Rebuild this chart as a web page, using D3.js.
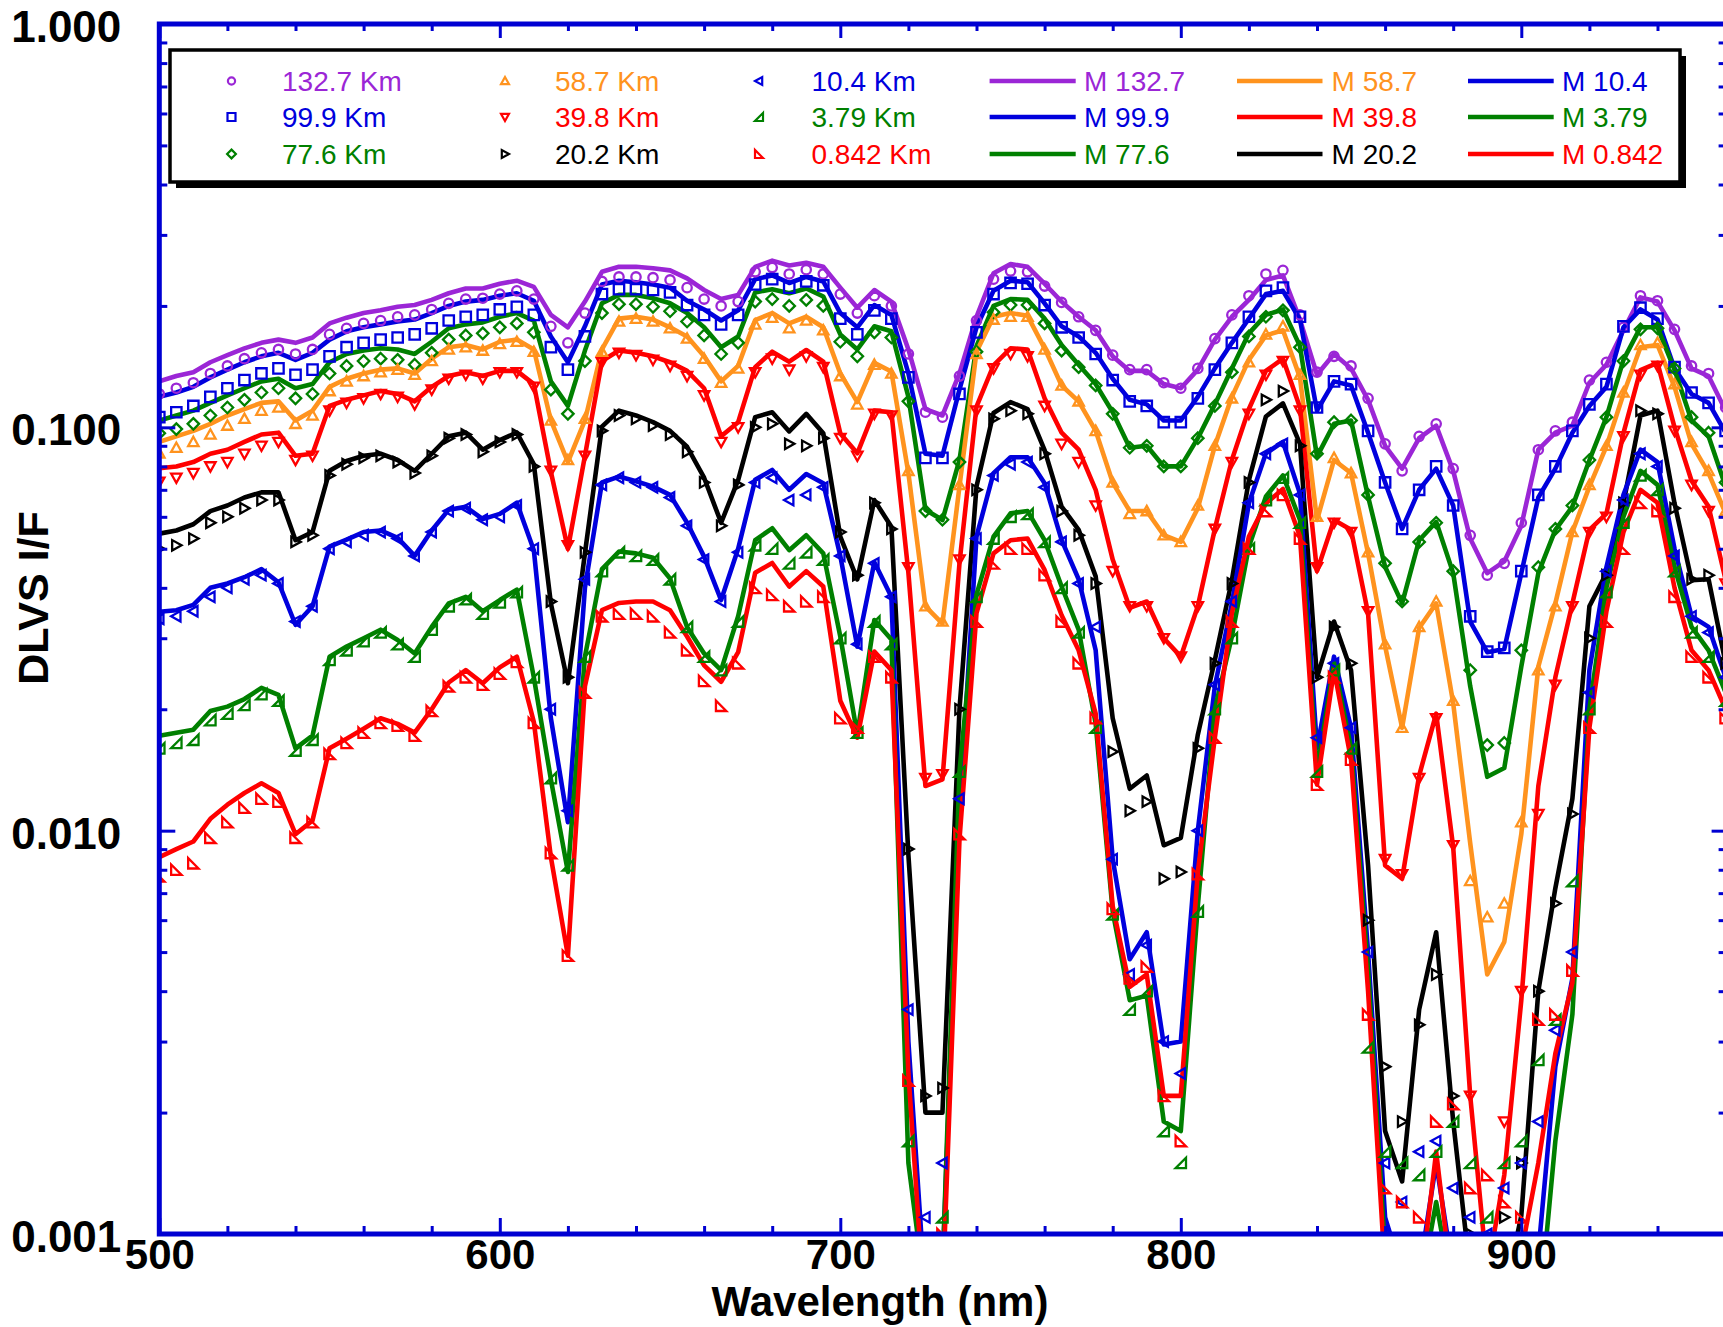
<!DOCTYPE html>
<html>
<head>
<meta charset="utf-8">
<script src="https://cdn.jsdelivr.net/npm/d3@7"></script>
<style>
  body { margin: 0; background: #fff; }
  svg { display: block; font-family: "Liberation Sans", Arial, sans-serif; }
</style>
</head>
<body>
<svg id="chart" width="1723" height="1327"></svg>
<script>
// ---- data (5 nm grid) ----
const wavelengths = [
  500,505,510,515,520,525,530,535,540,545,
  550,555,560,565,570,575,580,585,590,595,
  600,605,610,615,620,625,630,635,640,645,
  650,655,660,665,670,675,680,685,690,695,
  700,705,710,715,720,725,730,735,740,745,
  750,755,760,765,770,775,780,785,790,795,
  800,805,810,815,820,825,830,835,840,845,
  850,855,860,865,870,875,880,885,890,895,
  900,905,910,915,920,925,930,935,940,945,
  950,955,960];

const obsNames = ["132.7 Km","99.9 Km","77.6 Km","58.7 Km","39.8 Km","20.2 Km","10.4 Km","3.79 Km","0.842 Km"];
const modNames = ["M 132.7","M 99.9","M 77.6","M 58.7","M 39.8","M 20.2","M 10.4","M 3.79","M 0.842"];

const xMajorTicks = [500,600,700,800,900];
const yMajorTicks = [0.001,0.01,0.1,1];

// model curves
const mod132 = [
  0.130,0.134,0.137,0.145,0.151,0.157,0.162,0.165,0.162,0.167,
  0.181,0.187,0.192,0.195,0.199,0.201,0.207,0.215,0.221,0.221,
  0.227,0.231,0.223,0.190,0.177,0.205,0.243,0.250,0.250,0.248,
  0.245,0.234,0.219,0.208,0.213,0.250,0.259,0.252,0.256,0.250,
  0.222,0.198,0.219,0.205,0.156,0.111,0.107,0.136,0.188,0.241,
  0.254,0.250,0.227,0.205,0.188,0.174,0.150,0.138,0.138,0.128,
  0.125,0.139,0.165,0.188,0.207,0.232,0.238,0.185,0.135,0.152,
  0.140,0.117,0.090,0.079,0.094,0.101,0.078,0.053,0.0435,0.0465,
  0.057,0.088,0.097,0.101,0.129,0.143,0.174,0.210,0.205,0.174,
  0.140,0.134,0.110];
const mod99 = [
  0.119,0.122,0.126,0.133,0.139,0.145,0.150,0.153,0.147,0.153,
  0.165,0.173,0.177,0.180,0.183,0.185,0.192,0.200,0.205,0.207,
  0.212,0.215,0.206,0.168,0.145,0.178,0.226,0.231,0.229,0.226,
  0.222,0.206,0.196,0.184,0.195,0.233,0.238,0.228,0.236,0.230,
  0.192,0.177,0.201,0.190,0.136,0.086,0.085,0.124,0.177,0.218,
  0.231,0.229,0.203,0.178,0.168,0.153,0.132,0.117,0.114,0.104,
  0.104,0.119,0.140,0.162,0.186,0.214,0.218,0.185,0.110,0.130,
  0.127,0.097,0.073,0.056,0.070,0.079,0.064,0.033,0.0277,0.0282,
  0.0435,0.067,0.079,0.097,0.113,0.126,0.177,0.196,0.185,0.140,
  0.121,0.115,0.097];
const mod77 = [
  0.104,0.107,0.110,0.115,0.120,0.125,0.130,0.132,0.125,0.128,
  0.145,0.152,0.155,0.157,0.156,0.152,0.163,0.176,0.180,0.182,
  0.188,0.192,0.184,0.130,0.113,0.155,0.203,0.213,0.213,0.209,
  0.203,0.192,0.177,0.158,0.168,0.216,0.220,0.215,0.221,0.211,
  0.170,0.156,0.178,0.173,0.119,0.0625,0.0589,0.083,0.159,0.200,
  0.208,0.207,0.186,0.160,0.143,0.128,0.109,0.089,0.090,0.080,
  0.080,0.094,0.114,0.140,0.171,0.190,0.196,0.159,0.0846,0.102,
  0.104,0.0674,0.0451,0.0366,0.0525,0.0583,0.0435,0.0228,0.0136,0.0143,
  0.0255,0.0435,0.0557,0.0636,0.0829,0.106,0.147,0.177,0.177,0.139,
  0.104,0.095,0.0713];
const mod58 = [
  0.092,0.095,0.098,0.102,0.107,0.111,0.115,0.116,0.104,0.110,
  0.126,0.132,0.136,0.139,0.140,0.136,0.148,0.158,0.160,0.156,
  0.163,0.165,0.156,0.104,0.082,0.104,0.156,0.186,0.188,0.185,
  0.177,0.168,0.150,0.130,0.142,0.1845,0.192,0.181,0.188,0.177,
  0.136,0.1155,0.1445,0.1375,0.077,0.036,0.0326,0.0713,0.154,0.188,
  0.192,0.189,0.157,0.127,0.116,0.098,0.073,0.062,0.062,0.054,
  0.052,0.063,0.090,0.119,0.147,0.169,0.174,0.133,0.0589,0.083,
  0.077,0.0487,0.0287,0.018,0.0318,0.0366,0.0207,0.0093,0.0044,0.0053,
  0.0098,0.0255,0.0366,0.055,0.0713,0.0897,0.121,0.158,0.160,0.126,
  0.091,0.077,0.0612];
const mod39 = [
  0.0792,0.080,0.082,0.086,0.088,0.092,0.096,0.097,0.085,0.086,
  0.113,0.117,0.120,0.123,0.121,0.116,0.126,0.134,0.137,0.134,
  0.138,0.138,0.128,0.0776,0.050,0.085,0.146,0.155,0.153,0.150,
  0.145,0.138,0.125,0.095,0.103,0.141,0.154,0.1455,0.1555,0.1455,
  0.0966,0.0862,0.110,0.109,0.0436,0.0129,0.0134,0.046,0.1126,0.1425,
  0.157,0.156,0.118,0.097,0.088,0.070,0.047,0.0357,0.037,0.030,
  0.027,0.036,0.056,0.083,0.111,0.138,0.148,0.112,0.044,0.0589,
  0.0557,0.0346,0.0082,0.0076,0.0137,0.0195,0.0091,0.0022,0.0008,0.0014,
  0.0038,0.0129,0.024,0.0366,0.0557,0.0611,0.0967,0.1387,0.1445,0.100,
  0.0737,0.0636,0.0419];
const mod20 = [
  0.0545,0.0555,0.0575,0.062,0.064,0.067,0.069,0.069,0.0525,0.055,
  0.078,0.0825,0.085,0.086,0.083,0.078,0.086,0.095,0.097,0.088,
  0.093,0.097,0.081,0.0366,0.0232,0.0487,0.1004,0.110,0.107,0.103,
  0.098,0.0895,0.075,0.058,0.074,0.106,0.109,0.0977,0.108,0.0967,
  0.0536,0.042,0.066,0.0567,0.0087,0.0020,0.0020,0.020,0.0713,0.1085,
  0.1155,0.111,0.0878,0.0636,0.0557,0.0427,0.019,0.0127,0.0137,0.0092,
  0.0096,0.0173,0.0265,0.0418,0.074,0.1064,0.1147,0.091,0.024,0.033,
  0.025,0.0082,0.0018,0.00135,0.0036,0.0056,0.0019,0.0008,0.0007,0.0007,
  0.00111,0.0040,0.0072,0.012,0.036,0.0435,0.0648,0.107,0.110,0.0648,
  0.0418,0.042,0.026];
const mod10 = [
  0.0349,0.0352,0.0363,0.040,0.041,0.0425,0.0445,0.0413,0.0324,0.036,
  0.0506,0.0527,0.055,0.0555,0.0532,0.048,0.0555,0.0625,0.0635,0.0592,
  0.061,0.065,0.0496,0.019,0.0105,0.040,0.073,0.0755,0.0735,0.0713,
  0.068,0.058,0.0478,0.0373,0.050,0.0741,0.0784,0.070,0.0766,0.0727,
  0.048,0.0286,0.0463,0.038,0.0030,0.0007,0.0008,0.011,0.0536,0.077,
  0.0843,0.0843,0.0727,0.0525,0.042,0.028,0.0085,0.0048,0.0056,0.00295,
  0.0030,0.010,0.0228,0.0366,0.0648,0.0862,0.092,0.0685,0.016,0.027,
  0.018,0.005,0.0011,0.0008,0.0008,0.0015,0.0008,0.0006,0.0006,0.0006,
  0.0006,0.0009,0.0026,0.0043,0.025,0.045,0.068,0.088,0.082,0.050,
  0.034,0.032,0.024];
const mod3 = [
  0.0172,0.0175,0.0178,0.0198,0.0203,0.0212,0.0226,0.0217,0.0160,0.0172,
  0.027,0.0286,0.0300,0.0315,0.0297,0.0275,0.032,0.0366,0.038,0.035,
  0.0373,0.0396,0.024,0.0134,0.0079,0.027,0.0445,0.0492,0.0487,0.0475,
  0.0422,0.032,0.0275,0.025,0.034,0.0525,0.0562,0.0496,0.054,0.0487,
  0.0303,0.0173,0.0333,0.0298,0.0015,0.0007,0.0008,0.014,0.0385,0.0536,
  0.0612,0.062,0.0525,0.0403,0.0315,0.0184,0.0063,0.0038,0.0039,0.0019,
  0.0018,0.0065,0.020,0.0303,0.0506,0.0674,0.076,0.0589,0.014,0.026,
  0.016,0.0045,0.0009,0.0007,0.0007,0.0012,0.0007,0.0006,0.0006,0.0006,
  0.0006,0.0006,0.0017,0.0035,0.020,0.040,0.060,0.078,0.072,0.045,
  0.032,0.028,0.022];
const mod08 = [
  0.0086,0.0090,0.0094,0.0107,0.0116,0.0124,0.0131,0.0124,0.0098,0.0106,
  0.0160,0.0169,0.0179,0.0190,0.0184,0.0175,0.0200,0.0233,0.0250,0.0232,
  0.0254,0.0270,0.0186,0.0086,0.0049,0.0228,0.0352,0.0367,0.0370,0.0370,
  0.0352,0.0303,0.0257,0.0234,0.0277,0.0436,0.0461,0.0403,0.044,0.0403,
  0.021,0.017,0.0278,0.025,0.0025,0.0006,0.0007,0.0095,0.0346,0.0487,
  0.0525,0.053,0.0443,0.0342,0.028,0.0195,0.0065,0.0041,0.0044,0.0022,
  0.0022,0.0079,0.017,0.0346,0.0536,0.0648,0.0703,0.0536,0.013,0.025,
  0.015,0.004,0.0008,0.0007,0.0007,0.0016,0.0007,0.0006,0.0006,0.0007,
  0.0009,0.0015,0.0028,0.0042,0.018,0.035,0.055,0.070,0.065,0.040,
  0.028,0.025,0.020];

// DLVS measurements
const obs132 = [
  0.121,0.125,0.129,0.136,0.142,0.148,0.153,0.156,0.152,0.156,
  0.170,0.176,0.181,0.184,0.188,0.190,0.196,0.203,0.208,0.209,
  0.214,0.218,0.208,0.178,0.162,0.192,0.230,0.236,0.236,0.235,
  0.232,0.222,0.208,0.200,0.205,0.243,0.249,0.240,0.246,0.240,
  0.214,0.192,0.212,0.200,0.152,0.109,0.106,0.134,0.184,0.233,
  0.244,0.243,0.224,0.204,0.188,0.174,0.151,0.139,0.139,0.129,
  0.125,0.140,0.166,0.190,0.212,0.240,0.245,0.190,0.137,0.150,
  0.142,0.118,0.091,0.078,0.095,0.102,0.079,0.054,0.043,0.046,
  0.058,0.088,0.098,0.103,0.131,0.145,0.177,0.212,0.206,0.175,
  0.142,0.136,0.112];
const obs99 = [
  0.106,0.109,0.113,0.119,0.125,0.131,0.136,0.140,0.135,0.139,
  0.150,0.158,0.162,0.165,0.167,0.170,0.176,0.184,0.188,0.190,
  0.196,0.199,0.190,0.158,0.139,0.168,0.214,0.220,0.220,0.219,
  0.216,0.201,0.190,0.180,0.190,0.226,0.233,0.222,0.230,0.225,
  0.186,0.170,0.195,0.186,0.133,0.084,0.084,0.121,0.172,0.214,
  0.228,0.227,0.201,0.177,0.167,0.152,0.131,0.116,0.113,0.103,
  0.103,0.118,0.139,0.162,0.188,0.218,0.222,0.188,0.112,0.130,
  0.128,0.098,0.073,0.056,0.070,0.080,0.064,0.034,0.0278,0.0284,
  0.044,0.068,0.080,0.098,0.114,0.128,0.178,0.198,0.186,0.141,
  0.122,0.115,0.098];
const obs77 = [
  0.0967,0.099,0.102,0.107,0.112,0.117,0.122,0.125,0.118,0.121,
  0.136,0.142,0.146,0.148,0.147,0.143,0.153,0.165,0.169,0.171,
  0.177,0.181,0.172,0.124,0.108,0.146,0.192,0.202,0.202,0.199,
  0.194,0.183,0.169,0.152,0.162,0.205,0.208,0.200,0.207,0.200,
  0.163,0.150,0.172,0.167,0.116,0.062,0.059,0.082,0.154,0.193,
  0.201,0.201,0.181,0.155,0.141,0.127,0.108,0.089,0.090,0.080,
  0.080,0.094,0.113,0.137,0.168,0.188,0.195,0.158,0.086,0.103,
  0.104,0.068,0.046,0.037,0.052,0.058,0.044,0.025,0.0163,0.0165,
  0.028,0.045,0.056,0.064,0.083,0.106,0.146,0.175,0.176,0.140,
  0.106,0.097,0.073];
const obs58 = [
  0.0862,0.089,0.092,0.096,0.101,0.105,0.110,0.112,0.102,0.107,
  0.123,0.130,0.134,0.137,0.139,0.135,0.146,0.156,0.158,0.155,
  0.161,0.163,0.154,0.104,0.083,0.105,0.154,0.183,0.186,0.183,
  0.176,0.166,0.148,0.129,0.140,0.180,0.187,0.176,0.184,0.174,
  0.134,0.114,0.143,0.136,0.078,0.036,0.033,0.072,0.152,0.185,
  0.188,0.188,0.156,0.127,0.116,0.098,0.073,0.061,0.062,0.054,
  0.052,0.064,0.090,0.118,0.145,0.170,0.178,0.135,0.060,0.084,
  0.077,0.049,0.029,0.018,0.032,0.037,0.021,0.0075,0.0061,0.0066,
  0.0105,0.025,0.036,0.055,0.072,0.090,0.122,0.160,0.162,0.128,
  0.092,0.078,0.062];
const obs39 = [
  0.0733,0.075,0.077,0.080,0.082,0.086,0.090,0.092,0.083,0.085,
  0.110,0.115,0.118,0.121,0.119,0.114,0.124,0.132,0.135,0.132,
  0.137,0.137,0.126,0.078,0.051,0.085,0.145,0.153,0.151,0.147,
  0.142,0.134,0.120,0.092,0.100,0.137,0.148,0.139,0.150,0.141,
  0.094,0.085,0.108,0.107,0.045,0.0135,0.0138,0.047,0.110,0.140,
  0.152,0.150,0.113,0.091,0.082,0.064,0.044,0.036,0.036,0.030,
  0.027,0.036,0.056,0.082,0.108,0.135,0.146,0.110,0.045,0.058,
  0.055,0.035,0.0085,0.0078,0.0135,0.019,0.0092,0.0022,0.0008,0.0019,
  0.0040,0.011,0.023,0.036,0.055,0.060,0.095,0.135,0.142,0.098,
  0.072,0.062,0.041];
const obs20 = [
  0.050,0.051,0.053,0.058,0.060,0.063,0.066,0.066,0.052,0.054,
  0.076,0.081,0.084,0.085,0.082,0.077,0.085,0.094,0.096,0.087,
  0.092,0.096,0.080,0.037,0.024,0.049,0.098,0.107,0.105,0.101,
  0.096,0.087,0.073,0.057,0.072,0.100,0.102,0.091,0.090,0.094,
  0.055,0.043,0.065,0.056,0.0090,0.0022,0.0023,0.020,0.070,0.105,
  0.110,0.108,0.086,0.062,0.054,0.041,0.0157,0.0112,0.0118,0.0076,
  0.0079,0.016,0.026,0.041,0.073,0.117,0.123,0.090,0.024,0.032,
  0.026,0.006,0.0026,0.0019,0.0033,0.0044,0.0022,0.0010,0.0009,0.0011,
  0.0015,0.0040,0.0066,0.011,0.030,0.043,0.065,0.110,0.108,0.063,
  0.042,0.043,0.026];
const obs10 = [
  0.0335,0.034,0.035,0.038,0.040,0.042,0.043,0.041,0.033,0.036,
  0.050,0.052,0.054,0.055,0.053,0.048,0.055,0.062,0.063,0.059,
  0.060,0.064,0.050,0.020,0.0112,0.042,0.072,0.075,0.073,0.071,
  0.067,0.057,0.047,0.037,0.049,0.073,0.075,0.066,0.068,0.071,
  0.048,0.029,0.046,0.038,0.0036,0.0011,0.0015,0.012,0.053,0.076,
  0.081,0.082,0.071,0.052,0.041,0.032,0.0085,0.0044,0.0052,0.0030,
  0.0025,0.010,0.023,0.037,0.065,0.086,0.091,0.068,0.017,0.026,
  0.018,0.005,0.0015,0.0012,0.0016,0.0017,0.0013,0.0011,0.0010,0.0013,
  0.0015,0.0019,0.0032,0.0050,0.022,0.044,0.066,0.086,0.080,0.048,
  0.034,0.031,0.024];
const obs3 = [
  0.0160,0.0165,0.0168,0.0188,0.0195,0.0205,0.0218,0.021,0.0158,0.0168,
  0.0265,0.028,0.0295,0.031,0.029,0.027,0.0315,0.036,0.0375,0.0345,
  0.0368,0.039,0.024,0.0135,0.0082,0.027,0.044,0.049,0.048,0.047,
  0.042,0.032,0.027,0.025,0.033,0.051,0.050,0.046,0.049,0.047,
  0.030,0.0175,0.033,0.029,0.0017,0.0008,0.0011,0.014,0.038,0.053,
  0.060,0.061,0.052,0.040,0.031,0.018,0.0062,0.0036,0.0040,0.0018,
  0.0015,0.0063,0.020,0.030,0.050,0.066,0.075,0.058,0.014,0.025,
  0.016,0.0029,0.0016,0.0015,0.0014,0.0016,0.0019,0.0015,0.0011,0.0015,
  0.0017,0.0027,0.0034,0.0075,0.020,0.039,0.058,0.076,0.070,0.044,
  0.031,0.027,0.021];
const obs08 = [
  0.0077,0.0080,0.0083,0.0096,0.0105,0.0114,0.0120,0.0118,0.0096,0.0105,
  0.0155,0.0165,0.0175,0.0185,0.0182,0.0172,0.0198,0.0228,0.0240,0.0230,
  0.0245,0.0262,0.0185,0.0088,0.0049,0.022,0.034,0.0345,0.0345,0.034,
  0.031,0.028,0.0235,0.0204,0.026,0.040,0.0384,0.036,0.037,0.038,
  0.019,0.018,0.027,0.024,0.0024,0.0008,0.0010,0.0098,0.033,0.046,
  0.050,0.050,0.043,0.033,0.026,0.019,0.0064,0.0043,0.0046,0.0022,
  0.0017,0.0078,0.017,0.033,0.050,0.062,0.068,0.053,0.013,0.024,
  0.015,0.0035,0.0013,0.0012,0.0011,0.0019,0.0021,0.0013,0.0014,0.0012,
  0.0011,0.0034,0.0035,0.0045,0.018,0.033,0.050,0.065,0.062,0.038,
  0.027,0.024,0.019];

// ---- series styling ----
const colors = ["#9b26d6","#0000dd","#008000","#ff931e","#ff0000","#000000","#0000dd","#008000","#ff0000"];
const shapes = ["circle","square","diamond","triUp","triDown","triRight","triLeft","rtRight","rtLeft"];
const models = [mod132, mod99, mod77, mod58, mod39, mod20, mod10, mod3, mod08];
const observed = [obs132, obs99, obs77, obs58, obs39, obs20, obs10, obs3, obs08];

const series = obsNames.map((n, i) => ({
  name: n, model: modNames[i], color: colors[i], shape: shapes[i],
  mod: models[i], obs: observed[i]
}));

// ! MARKER OUTLINES
function shapePath(shape, h) {
  const k = h * 0.8;
  switch (shape) {
    case "circle":  { const p = d3.path(); p.arc(0, 0, h * 0.9, 0, 2 * Math.PI); return p.toString(); }
    case "square":  return `M${-h},${-h}H${h}V${h}H${-h}Z`;
    case "diamond": return `M0,${-h * 1.1}L${h * 1.1},0L0,${h * 1.1}L${-h * 1.1},0Z`;
    case "triUp":   return `M0,${-h}L${h},${k}L${-h},${k}Z`;
    case "triDown": return `M0,${h}L${h},${-k}L${-h},${-k}Z`;
    case "triRight":return `M${h},0L${-k},${-h}L${-k},${h}Z`;
    case "triLeft": return `M${-h},0L${k},${-h}L${k},${h}Z`;
    case "rtRight": return `M${h},${-h}L${h},${h}L${-h},${h}Z`;
    case "rtLeft":  return `M${-h},${-h}L${-h},${h}L${h},${h}Z`;
  }
}

// ---- layout ----
const svg = d3.select("#chart");
const axisColor = "#0000d2";
const plot = { left: 159.3, right: 1725.6, top: 24, bottom: 1234 };

const x = d3.scaleLinear().domain([500, 960]).range([plot.left, plot.right]);
const y = d3.scaleLog().domain([0.001, 1]).range([plot.bottom, plot.top]);

svg.append("defs").append("clipPath").attr("id", "plotClip")
  .append("rect")
  .attr("x", plot.left).attr("y", plot.top)
  .attr("width", plot.right - plot.left).attr("height", plot.bottom - plot.top);

const dataLayer = svg.append("g").attr("clip-path", "url(#plotClip)");

// model lines
series.forEach(s => {
  const pts = wavelengths.map((w, i) => [w, s.mod[i]]).filter(d => d[1] != null);
  dataLayer.append("path")
    .datum(pts)
    .attr("fill", "none")
    .attr("stroke", s.color)
    .attr("stroke-width", 4.6)
    .attr("stroke-linejoin", "round")
    .attr("d", d3.line().x(d => x(d[0])).y(d => y(d[1])));
});

// measured symbols
series.forEach(s => {
  const pts = wavelengths.map((w, i) => [w, s.obs[i]]).filter(d => d[1] != null && d[1] >= 0.00085);
  dataLayer.append("g").selectAll("path")
    .data(pts)
    .join("path")
    .attr("transform", d => `translate(${x(d[0])},${y(d[1])})`)
    .attr("d", shapePath(s.shape, 5.2))
    .attr("fill", "none")
    .attr("stroke", s.color)
    .attr("stroke-width", 2.3);
});

// ---- axes ----
const xMinorTicks = d3.range(500, 961, 20).filter(v => v % 100 !== 0);
const yMinorTicks = [];
[0.001, 0.01, 0.1].forEach(d => { for (let m = 2; m <= 9; m++) yMinorTicks.push(d * m); });

function styleAxis(g) {
  g.select(".domain").remove();
  g.selectAll(".tick line").attr("stroke", axisColor).attr("stroke-width", 3);
}

// bottom
svg.append("g").attr("transform", `translate(0,${plot.bottom})`)
  .call(d3.axisBottom(x).tickValues(xMajorTicks).tickSize(-16).tickSizeOuter(0)
    .tickPadding(5).tickFormat(d3.format("d")))
  .call(styleAxis)
  .call(g => g.selectAll("text").attr("fill", "#000").attr("font-size", 42)
    .attr("font-weight", "bold").attr("font-family", "Liberation Sans, Arial, sans-serif"));
svg.append("g").attr("transform", `translate(0,${plot.bottom})`)
  .call(d3.axisBottom(x).tickValues(xMinorTicks).tickSize(-8).tickSizeOuter(0).tickFormat(""))
  .call(styleAxis);

// top
svg.append("g").attr("transform", `translate(0,${plot.top})`)
  .call(d3.axisTop(x).tickValues(xMajorTicks).tickSize(-14).tickSizeOuter(0).tickFormat(""))
  .call(styleAxis);
svg.append("g").attr("transform", `translate(0,${plot.top})`)
  .call(d3.axisTop(x).tickValues(xMinorTicks).tickSize(-7).tickSizeOuter(0).tickFormat(""))
  .call(styleAxis);

// left
svg.append("g").attr("transform", `translate(${plot.left},0)`)
  .call(d3.axisLeft(y).tickValues(yMajorTicks).tickSize(-16).tickSizeOuter(0)
    .tickPadding(38).tickFormat(d3.format(".3f")))
  .call(styleAxis)
  .call(g => g.selectAll("text").attr("fill", "#000").attr("font-size", 44)
    .attr("font-weight", "bold").attr("dy", "0.4em")
    .attr("font-family", "Liberation Sans, Arial, sans-serif"));
svg.append("g").attr("transform", `translate(${plot.left},0)`)
  .call(d3.axisLeft(y).tickValues(yMinorTicks).tickSize(-8).tickSizeOuter(0).tickFormat(""))
  .call(styleAxis);

// right
svg.append("g").attr("transform", `translate(${plot.right},0)`)
  .call(d3.axisRight(y).tickValues(yMajorTicks).tickSize(-14).tickSizeOuter(0).tickFormat(""))
  .call(styleAxis);
svg.append("g").attr("transform", `translate(${plot.right},0)`)
  .call(d3.axisRight(y).tickValues(yMinorTicks).tickSize(-7).tickSizeOuter(0).tickFormat(""))
  .call(styleAxis);

// frame
svg.append("rect")
  .attr("x", plot.left).attr("y", plot.top)
  .attr("width", plot.right - plot.left).attr("height", plot.bottom - plot.top)
  .attr("fill", "none").attr("stroke", axisColor).attr("stroke-width", 5);

// axis titles
svg.append("text")
  .attr("x", 880).attr("y", 1316)
  .attr("text-anchor", "middle")
  .attr("font-size", 42).attr("font-weight", "bold")
  .text("Wavelength (nm)");

svg.append("text")
  .attr("transform", "translate(48,598) rotate(-90)")
  .attr("text-anchor", "middle")
  .attr("font-size", 43).attr("font-weight", "bold")
  .text("DLVS I/F");

// ---- legend ----
const legend = svg.append("g");
const box = { x: 170, y: 50, w: 1510, h: 132 };
legend.append("rect")
  .attr("x", box.x + 6).attr("y", box.y + 6).attr("width", box.w).attr("height", box.h)
  .attr("fill", "#000");
legend.append("rect")
  .attr("x", box.x).attr("y", box.y).attr("width", box.w).attr("height", box.h)
  .attr("fill", "#fff").attr("stroke", "#000").attr("stroke-width", 3.5);

const rowY = [81, 117, 154];
const symX = [231.5, 505, 759];
const symTextX = [282, 555, 811.5];
const lineX = [[989.6, 1075.7], [1237, 1322.5], [1468, 1553.7]];
const lineTextX = [1084, 1331.6, 1562];

series.forEach((s, i) => {
  const col = Math.floor(i / 3), row = i % 3;
  const cy = rowY[row];
  legend.append("path")
    .attr("transform", `translate(${symX[col]},${cy})`)
    .attr("d", shapePath(s.shape, 4))
    .attr("fill", "none").attr("stroke", s.color).attr("stroke-width", 2.2);
  legend.append("text")
    .attr("x", symTextX[col]).attr("y", cy + 10)
    .attr("font-size", 28).attr("fill", s.color)
    .text(s.name);
  legend.append("line")
    .attr("x1", lineX[col][0]).attr("x2", lineX[col][1])
    .attr("y1", cy).attr("y2", cy)
    .attr("stroke", s.color).attr("stroke-width", 4.6);
  legend.append("text")
    .attr("x", lineTextX[col]).attr("y", cy + 10)
    .attr("font-size", 28).attr("fill", s.color)
    .text(s.model);
});
</script>
</body>
</html>
